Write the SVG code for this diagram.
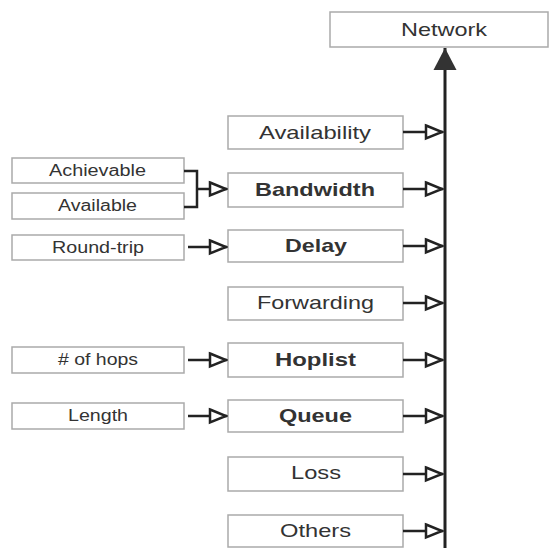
<svg xmlns="http://www.w3.org/2000/svg" width="550" height="548" viewBox="0 0 550 548">
<style>
.box{fill:#fff;stroke:#aaa;stroke-width:1.5}
.t{font-family:"Liberation Sans",Arial,sans-serif;fill:#333;text-anchor:middle;dominant-baseline:central}
.big{font-size:19px}
.bold{font-size:19px;font-weight:bold}
.small{font-size:16px}
.c{fill:none;stroke:#222;stroke-width:2.5}
</style>
<defs>
<marker id="open" markerUnits="userSpaceOnUse" markerWidth="20" markerHeight="18" viewBox="0 0 20 18" refX="19" refY="9" orient="auto">
<path d="M2,2.5 L18,9 L2,15.5 Z" fill="#fff" stroke="#222" stroke-width="2.5" stroke-linejoin="miter"/>
</marker>
<marker id="solid" markerUnits="userSpaceOnUse" markerWidth="24" markerHeight="24" viewBox="0 0 24 24" refX="23" refY="12" orient="auto">
<path d="M1,0.5 L23,12 L1,23.5 Z" fill="#333"/>
</marker>
</defs>
<g id="network"><rect class="box" x="330" y="12" width="218" height="35"/><text class="t big" x="444" y="29.5" textLength="86" lengthAdjust="spacingAndGlyphs">Network</text></g>
<g id="availability"><rect class="box" x="228" y="116" width="175" height="33"/><text class="t big" x="315" y="132" textLength="112" lengthAdjust="spacingAndGlyphs">Availability</text></g>
<g id="bandwidth"><rect class="box" x="228" y="173" width="175" height="34"/><text class="t bold" x="315" y="189" textLength="120" lengthAdjust="spacingAndGlyphs">Bandwidth</text></g>
<g id="delay"><rect class="box" x="228" y="230" width="175" height="32"/><text class="t bold" x="316" y="245" textLength="62" lengthAdjust="spacingAndGlyphs">Delay</text></g>
<g id="forwarding"><rect class="box" x="228" y="287" width="175" height="33"/><text class="t big" x="315.5" y="302" textLength="117" lengthAdjust="spacingAndGlyphs">Forwarding</text></g>
<g id="hoplist"><rect class="box" x="228" y="343" width="175" height="34"/><text class="t bold" x="315.5" y="359" textLength="81" lengthAdjust="spacingAndGlyphs">Hoplist</text></g>
<g id="queue"><rect class="box" x="228" y="400" width="175" height="32"/><text class="t bold" x="315.5" y="415" textLength="73" lengthAdjust="spacingAndGlyphs">Queue</text></g>
<g id="loss"><rect class="box" x="228" y="457" width="175" height="34"/><text class="t big" x="316" y="472.5" textLength="50" lengthAdjust="spacingAndGlyphs">Loss</text></g>
<g id="others"><rect class="box" x="228" y="515" width="175" height="32"/><text class="t big" x="315.5" y="530" textLength="71" lengthAdjust="spacingAndGlyphs">Others</text></g>
<g id="achievable"><rect class="box" x="12" y="158" width="172" height="25"/><text class="t small" x="97.5" y="170" textLength="97" lengthAdjust="spacingAndGlyphs">Achievable</text></g>
<g id="available"><rect class="box" x="12" y="193" width="172" height="26"/><text class="t small" x="97.5" y="205.5" textLength="79" lengthAdjust="spacingAndGlyphs">Available</text></g>
<g id="roundtrip"><rect class="box" x="12" y="235" width="172" height="25"/><text class="t small" x="98" y="247" textLength="92" lengthAdjust="spacingAndGlyphs">Round-trip</text></g>
<g id="hops"><rect class="box" x="12" y="347" width="172" height="26"/><text class="t small" x="98" y="359.5" textLength="80" lengthAdjust="spacingAndGlyphs"># of hops</text></g>
<g id="length"><rect class="box" x="12" y="403" width="172" height="26"/><text class="t small" x="98" y="415.5" textLength="60" lengthAdjust="spacingAndGlyphs">Length</text></g>
<g id="connectors">
<line x1="445" y1="548" x2="445" y2="48" stroke="#222" stroke-width="3" marker-end="url(#solid)"/>
<line class="c" x1="403" y1="132" x2="443" y2="132" marker-end="url(#open)"/>
<line class="c" x1="403" y1="189" x2="443" y2="189" marker-end="url(#open)"/>
<line class="c" x1="403" y1="246" x2="443" y2="246" marker-end="url(#open)"/>
<line class="c" x1="403" y1="303" x2="443" y2="303" marker-end="url(#open)"/>
<line class="c" x1="403" y1="360" x2="443" y2="360" marker-end="url(#open)"/>
<line class="c" x1="403" y1="416" x2="443" y2="416" marker-end="url(#open)"/>
<line class="c" x1="403" y1="474" x2="443" y2="474" marker-end="url(#open)"/>
<line class="c" x1="403" y1="531" x2="443" y2="531" marker-end="url(#open)"/>
<path class="c" d="M184,171 H197 V207 H184"/>
<line class="c" x1="197" y1="189" x2="227" y2="189" marker-end="url(#open)"/>
<line class="c" x1="188" y1="247" x2="227" y2="247" marker-end="url(#open)"/>
<line class="c" x1="188" y1="360" x2="227" y2="360" marker-end="url(#open)"/>
<line class="c" x1="188" y1="416" x2="227" y2="416" marker-end="url(#open)"/>
</g>
</svg>
